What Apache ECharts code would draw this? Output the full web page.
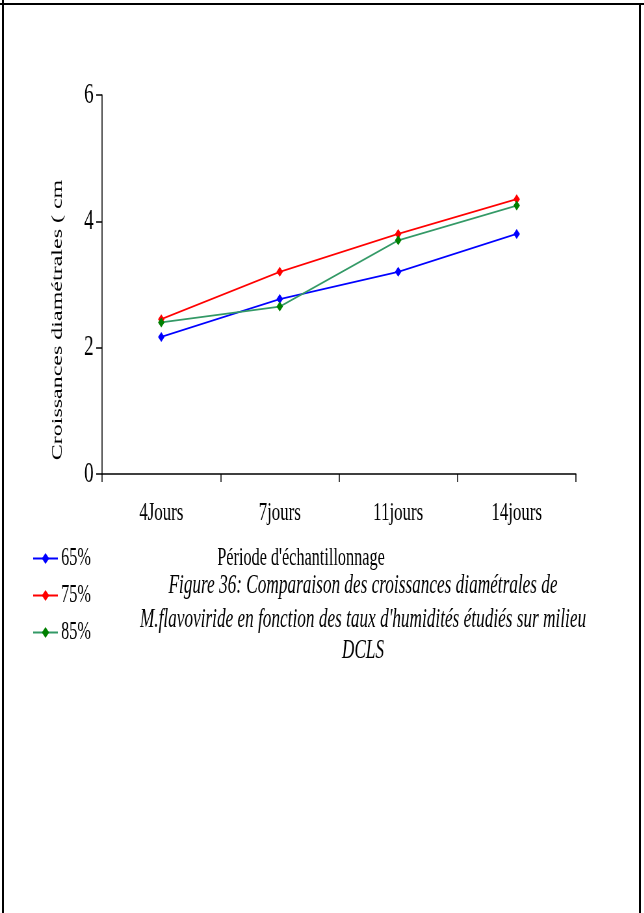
<!DOCTYPE html>
<html>
<head>
<meta charset="utf-8">
<script src="https://cdn.jsdelivr.net/npm/echarts@6/dist/echarts.min.js"></script>
<style>
html,body{margin:0;padding:0;background:#fff;width:644px;height:913px;overflow:hidden;}
#chart{position:absolute;left:0;top:0;width:991px;height:913px;transform:scaleX(0.65);transform-origin:0 0;}
.ln{position:absolute;background:#000;}
</style>
</head>
<body>
<div id="chart"></div>
<div class="ln" style="left:0;top:3px;width:644px;height:2px;"></div>
<div class="ln" style="left:2px;top:0;width:2px;height:913px;"></div>
<div class="ln" style="left:639px;top:4px;width:2px;height:909px;"></div>
<script>
var categories = ['4Jours', '7jours', '11jours', '14jours'];
var seriesNames = ['65%', '75%', '85%'];
var values65 = [2.17, 2.77, 3.2, 3.8];
var values75 = [2.45, 3.2, 3.8, 4.35];
var values85 = [2.4, 2.65, 3.7, 4.25];
var yTicks = [0, 2, 4, 6];
var yAxisTitle = 'Croissances diamétrales ( cm';
var xAxisTitle = "Période d'échantillonnage";
var captionLines = [
  'Figure 36: Comparaison des croissances diamétrales de',
  "M.flavoviride en fonction des taux d'humidités étudiés sur milieu",
  'DCLS'
];

var S = 0.65;
var font = 'Liberation Serif';
var chart = echarts.init(document.getElementById('chart'), null, {renderer: 'canvas'});

function mkSeries(name, data, lineColor, markColor) {
  return {
    name: name, type: 'line', data: data,
    symbol: 'diamond', symbolSize: [10, 10],
    lineStyle: {color: lineColor, width: 1.8},
    itemStyle: {color: markColor},
    emphasis: {disabled: true},
    animation: false
  };
}

chart.setOption({
  animation: false,
  grid: {left: 157, right: 105, top: 95, bottom: 439, containLabel: false},
  xAxis: {
    type: 'category', data: categories, boundaryGap: true,
    axisLine: {lineStyle: {color: '#000', width: 1.5}},
    axisTick: {show: true, length: 8, lineStyle: {color: '#000', width: 1.5}},
    axisLabel: {color: '#000', fontFamily: font, fontSize: 26, margin: 26},
    splitLine: {show: false}
  },
  yAxis: {
    type: 'value', min: yTicks[0], max: yTicks[yTicks.length - 1], interval: 2,
    axisLine: {show: true, lineStyle: {color: '#000', width: 1.5}},
    axisTick: {show: true, length: 9, lineStyle: {color: '#000', width: 1.5}},
    axisLabel: {color: '#000', fontFamily: font, fontSize: 29, margin: 13},
    splitLine: {show: false}
  },
  legend: {
    orient: 'vertical', left: 50, top: 546, padding: 0,
    itemWidth: 38, itemHeight: 14, itemGap: 12,
    textStyle: {color: '#000', fontFamily: font, fontSize: 25, padding: [0, 0, 0, 0]},
    data: seriesNames
  },
  series: [
    mkSeries(seriesNames[0], values65, '#0000ff', '#0000ff'),
    mkSeries(seriesNames[1], values75, '#ff0000', '#ff0000'),
    mkSeries(seriesNames[2], values85, '#339966', '#008000')
  ],
  graphic: [
    {type: 'text', x: 89, y: 320, rotation: Math.PI / 2,
     style: {text: yAxisTitle, fill: '#000', font: '24px "Liberation Serif"', textAlign: 'center', textVerticalAlign: 'middle'}},
    {type: 'text', x: 301 / S, y: 558,
     style: {text: xAxisTitle, fill: '#000', font: '25px "Liberation Serif"', textAlign: 'center', textVerticalAlign: 'middle'}},
    {type: 'text', x: 363 / S, y: 586,
     style: {text: captionLines[0], fill: '#000', font: 'italic 26.5px "Liberation Serif"', textAlign: 'center', textVerticalAlign: 'middle'}},
    {type: 'text', x: 363 / S, y: 620,
     style: {text: captionLines[1], fill: '#000', font: 'italic 26.5px "Liberation Serif"', textAlign: 'center', textVerticalAlign: 'middle'}},
    {type: 'text', x: 363 / S, y: 651,
     style: {text: captionLines[2], fill: '#000', font: 'italic 26.5px "Liberation Serif"', textAlign: 'center', textVerticalAlign: 'middle'}}
  ]
});
</script>
</body>
</html>
